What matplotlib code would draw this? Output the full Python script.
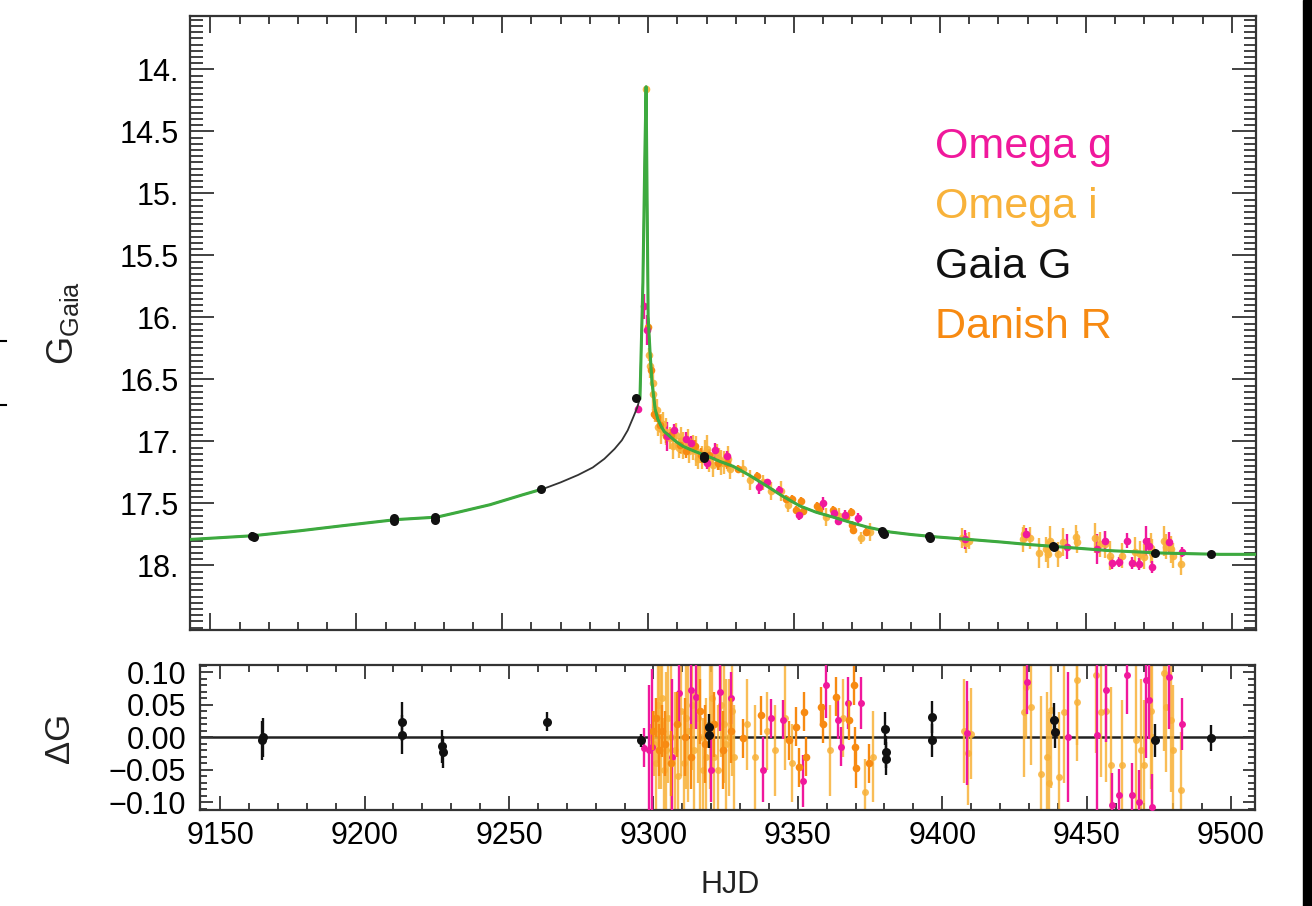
import numpy as np
import matplotlib.pyplot as plt
from matplotlib.ticker import MultipleLocator, FixedLocator, FuncFormatter
from matplotlib.lines import Line2D
from matplotlib.patches import Rectangle

plt.rcParams['font.family'] = ['Liberation Sans', 'DejaVu Sans']
plt.rcParams['mathtext.fontset'] = 'custom'
plt.rcParams['mathtext.rm'] = 'Liberation Sans'

C_G = '#F0189C'      # Omega g
C_I = '#F8B23A'      # Omega i
C_R = '#F78A12'      # Danish R
C_GAIA = '#111111'
C_MODEL = '#3DAA3F'

# model light curve
model_t = [9143.0, 9164.6, 9180.7, 9195.0, 9213.6, 9227.6, 9235.0, 9245.8,
           9250.0, 9257.0, 9264.3, 9270.0, 9276.0, 9281.0, 9285.0, 9288.5,
           9291.0, 9293.0, 9294.8, 9296.2, 9297.2, 9298.2, 9298.9, 9299.3,
           9299.7, 9300.0, 9300.6, 9301.3, 9302.4, 9303.3, 9304.5, 9305.5,
           9307.0, 9309.5, 9312.0, 9316.0, 9320.5, 9324.5, 9329.1, 9334.5,
           9340.7, 9346.0, 9352.0, 9357.5, 9363.4, 9369.0, 9375.0, 9382.9,
           9390.0, 9399.0, 9410.0, 9420.6, 9430.0, 9441.2, 9458.0, 9476.4,
           9496.0, 9508.3]
model_g = [17.79, 17.76, 17.72, 17.68, 17.63, 17.61, 17.57, 17.51,
           17.48, 17.43, 17.38, 17.33, 17.27, 17.21, 17.14, 17.06,
           16.99, 16.91, 16.81, 16.73, 16.65, 15.72, 14.65, 14.14,
           15.20, 15.99, 16.26, 16.52, 16.74, 16.82, 16.88, 16.92,
           16.95, 17.00, 17.04, 17.08, 17.12, 17.16, 17.20, 17.27,
           17.36, 17.44, 17.52, 17.57, 17.61, 17.65, 17.69, 17.73,
           17.75, 17.77, 17.79, 17.81, 17.83, 17.85, 17.88, 17.90,
           17.91, 17.91]

# Gaia G
gaia_t = [9164.4, 9164.8, 9212.8, 9213.0, 9226.9, 9227.1, 9263.3, 9295.8,
          9319.1, 9319.3, 9380.3, 9380.5, 9380.7, 9396.3, 9396.5, 9438.8,
          9439.0, 9473.8, 9493.0]
gaia_mag = [17.76, 17.77, 17.62, 17.64, 17.61, 17.63, 17.38, 16.65,
            17.12, 17.13, 17.72, 17.74, 17.75, 17.76, 17.78, 17.84,
            17.85, 17.90, 17.91]
gaia_res = [-0.005, 0.0, 0.024, 0.004, -0.014, -0.023, 0.024, -0.005,
            0.015, 0.004, 0.013, -0.023, -0.033, 0.031, -0.005, 0.027,
            0.008, -0.005, -0.002]
gaia_err = [0.03, 0.03, 0.03, 0.03, 0.025, 0.025, 0.015, 0.01,
            0.02, 0.02, 0.025, 0.025, 0.025, 0.025, 0.025, 0.025,
            0.025, 0.025, 0.02]

# Omega i
oi_t = [9299.3, 9300.2, 9301.5, 9302.5, 9303.5, 9305.0, 9306.0, 9307.5,
        9309.5, 9310.5, 9312.0, 9314.0, 9315.5, 9317.0, 9319.5, 9321.0,
        9323.5, 9325.0, 9326.0, 9328.0, 9332.5, 9335.0, 9339.5, 9342.0,
        9345.5, 9348.0, 9361.0, 9365.5, 9373.1, 9376.0, 9407.5, 9408.9,
        9410.0, 9428.3, 9428.9, 9430.7, 9434.1, 9436.4, 9437.0, 9437.6,
        9440.5, 9442.2, 9446.5, 9446.8, 9453.2, 9454.9, 9456.6, 9458.4,
        9462.4, 9467.0, 9468.7, 9469.9, 9472.2, 9472.7, 9476.8, 9477.4,
        9479.1, 9479.8, 9482.6,
        9300.8, 9301.8, 9303.0, 9304.5, 9308.5, 9311.2, 9313.5, 9316.3,
        9318.3, 9320.3, 9322.2, 9324.3, 9327.2]
oi_mag = [14.16, 16.30, 16.53, 16.74, 16.88, 16.86, 16.92, 16.97,
          16.95, 17.05, 17.03, 17.08, 17.05, 17.14, 17.09, 17.16,
          17.10, 17.17, 17.17, 17.22, 17.22, 17.31, 17.33, 17.40,
          17.40, 17.51, 17.61, 17.60, 17.78, 17.73, 17.78, 17.82,
          17.80, 17.79, 17.75, 17.78, 17.90, 17.87, 17.91, 17.80,
          17.91, 17.81, 17.77, 17.81, 17.78, 17.83, 17.83, 17.92,
          17.92, 17.89, 17.91, 17.93, 17.86, 17.90, 17.80, 17.85,
          17.87, 17.92, 17.99,
          16.39, 16.62, 16.75, 16.90, 17.04, 16.99, 17.00, 17.08,
          17.13, 17.06, 17.19, 17.14, 17.14]
oi_res = [0.0, -0.01, 0.05, 0.02, -0.05, 0.03, 0.0, -0.02,
          0.04, -0.04, 0.01, -0.02, 0.03, -0.05, 0.02, -0.03,
          0.05, -0.01, 0.0, -0.03, 0.02, -0.03, 0.01, -0.02,
          0.03, -0.04, -0.02, 0.03, -0.084, -0.03, 0.01, -0.025,
          0.005, 0.039, 0.077, 0.047, -0.056, -0.03, -0.071, 0.042,
          -0.061, 0.039, 0.088, 0.054, 0.095, 0.039, 0.041, -0.043,
          -0.043, -0.005, -0.02, -0.043, 0.041, 0.0, 0.098, 0.047,
          0.026, -0.02, -0.082,
          -0.04, 0.03, 0.06, -0.02, -0.06, 0.03, 0.05, 0.0,
          -0.03, 0.06, -0.05, 0.02, 0.04]
oi_err = [0.02, 0.05, 0.09, 0.1, 0.08, 0.1, 0.11, 0.09,
          0.1, 0.08, 0.11, 0.09, 0.1, 0.08, 0.1, 0.09,
          0.08, 0.1, 0.09, 0.08, 0.07, 0.08, 0.06, 0.07,
          0.08, 0.06, 0.07, 0.06, 0.05, 0.07, 0.08, 0.08,
          0.07, 0.1, 0.08, 0.09, 0.12, 0.1, 0.11, 0.12,
          0.1, 0.11, 0.1, 0.09, 0.12, 0.1, 0.11, 0.12,
          0.1, 0.12, 0.11, 0.1, 0.12, 0.11, 0.12, 0.1,
          0.11, 0.1, 0.09,
          0.1, 0.11, 0.09, 0.12, 0.1, 0.11, 0.1, 0.12,
          0.09, 0.11, 0.1, 0.09, 0.1]

# Danish R
dr_t = [9299.8, 9301.0, 9302.0, 9303.0, 9304.0, 9306.0, 9308.0, 9311.0,
        9313.0, 9316.0, 9318.0, 9321.0, 9324.0, 9327.0, 9330.9, 9337.3,
        9347.1, 9349.4, 9350.5, 9352.3, 9352.9, 9358.0, 9358.6, 9363.2,
        9367.8, 9369.6, 9369.9, 9370.2, 9374.8]
dr_mag = [16.08, 16.42, 16.78, 16.80, 16.87, 16.96, 16.95, 17.03,
          17.08, 17.04, 17.11, 17.11, 17.17, 17.17, 17.22, 17.28,
          17.46, 17.46, 17.55, 17.48, 17.56, 17.52, 17.55, 17.55,
          17.61, 17.57, 17.67, 17.71, 17.73]
dr_res = [0.01, 0.03, -0.02, 0.01, -0.01, -0.04, 0.02, 0.0,
          -0.03, 0.04, -0.01, 0.02, -0.02, 0.01, -0.002, 0.034,
          -0.005, 0.016, -0.046, 0.039, -0.03, 0.047, 0.021, 0.062,
          0.026, 0.08, -0.015, -0.048, -0.04]
dr_err = [0.03, 0.03, 0.04, 0.04, 0.05, 0.05, 0.05, 0.06,
          0.05, 0.05, 0.06, 0.05, 0.06, 0.05, 0.03, 0.03,
          0.03, 0.03, 0.03, 0.03, 0.03, 0.03, 0.03, 0.03,
          0.03, 0.03, 0.03, 0.03, 0.03]

# Omega g
og_t = [9296.6, 9298.6, 9299.6, 9306.5, 9309.0, 9313.1, 9314.8, 9320.0,
        9322.9, 9326.9, 9337.9, 9340.7, 9344.8, 9351.7, 9359.8, 9363.8,
        9364.9, 9367.3, 9371.8, 9408.6, 9429.5, 9443.4, 9453.7, 9456.6,
        9458.9, 9461.2, 9464.1, 9465.8, 9468.1, 9470.5, 9471.6, 9472.7,
        9478.5, 9483.1]
og_mag = [16.74, 15.91, 16.10, 16.96, 16.91, 16.98, 17.01, 17.17,
          17.07, 17.12, 17.37, 17.33, 17.39, 17.59, 17.50, 17.58,
          17.64, 17.59, 17.62, 17.79, 17.75, 17.85, 17.87, 17.80,
          17.98, 17.97, 17.80, 17.98, 17.99, 17.80, 17.84, 18.01,
          17.81, 17.89]
og_res = [-0.016, -0.02, -0.015, -0.03, 0.068, 0.072, 0.062, -0.05,
          0.07, 0.061, -0.05, 0.029, 0.027, -0.068, 0.08, 0.027,
          -0.015, 0.052, 0.052, 0.006, 0.085, 0.0, 0.003, 0.072,
          -0.105, -0.089, 0.095, -0.089, -0.1, 0.088, 0.057, -0.107,
          0.093, 0.021]
og_err = [0.03, 0.1, 0.12, 0.12, 0.05, 0.06, 0.05, 0.05,
          0.06, 0.04, 0.05, 0.03, 0.03, 0.04, 0.05, 0.03,
          0.03, 0.04, 0.04, 0.08, 0.05, 0.1, 0.12, 0.08,
          0.05, 0.04, 0.06, 0.05, 0.05, 0.12, 0.06, 0.05,
          0.08, 0.04]

legend_labels = ['Omega g', 'Omega i', 'Gaia G', 'Danish R']
legend_colors = [C_G, C_I, C_GAIA, C_R]
mag_ticks = [14, 14.5, 15, 15.5, 16, 16.5, 17, 17.5, 18]

W, H = 1312, 906
fig = plt.figure(figsize=(W / 100, H / 100), dpi=100)
ax1 = fig.add_axes([190 / W, 1 - 630 / H, (1256 - 190) / W, (630 - 16) / H])
ax2 = fig.add_axes([200 / W, 1 - 810 / H, (1255 - 200) / W, (810 - 665) / H])

# ---- top panel ----
mt = np.array(model_t)
mg = np.array(model_g)
green_part = (mt <= 9266) | (mt >= 9297)
ax1.plot(mt, mg, color='#333333', lw=1.3, zorder=3)
ax1.plot(mt, np.where(green_part, mg, np.nan), color=C_MODEL, lw=2.2, zorder=4)

kw = dict(fmt='o', capsize=0, elinewidth=1.7, markeredgewidth=0)
ax1.errorbar(oi_t, oi_mag, yerr=oi_err, color=C_I, ms=5.5, alpha=0.9, zorder=2, **kw)
ax1.errorbar(dr_t, dr_mag, yerr=dr_err, color=C_R, ms=5.5, zorder=2, **kw)
ax1.errorbar(og_t, og_mag, yerr=og_err, color=C_G, ms=5.5, zorder=2, **kw)
ax1.errorbar(gaia_t, gaia_mag, yerr=gaia_err, color=C_GAIA, ms=6.5, zorder=5, **kw)

ax1.set_xlim(9143, 9508.3)
ax1.set_ylim(18.52, 13.57)
ax1.xaxis.set_major_locator(MultipleLocator(50))
ax1.xaxis.set_minor_locator(MultipleLocator(10))
ax1.yaxis.set_major_locator(FixedLocator(mag_ticks))
ax1.yaxis.set_minor_locator(MultipleLocator(0.05))
ax1.yaxis.set_major_formatter(FuncFormatter(
    lambda v, p: f"{int(round(v))}." if abs(v - round(v)) < 1e-6 else f"{v:g}"))
ax1.tick_params(axis='both', which='both', direction='in', top=True, right=True,
                labelbottom=False, width=1.3, color='#333333')
ax1.tick_params(axis='y', which='major', length=17, labelsize=22, pad=8)
ax1.tick_params(axis='y', which='minor', length=9)
ax1.tick_params(axis='x', which='major', length=12)
ax1.tick_params(axis='x', which='minor', length=6)

for i, (lab, col) in enumerate(zip(legend_labels, legend_colors)):
    ax1.text(935 / W, 1 - (147 + 60 * i) / H, lab, color=col, fontsize=31,
             transform=fig.transFigure, ha='left', va='center')

# ---- residual panel ----
ax2.axhline(0, color='#222222', lw=1.8, zorder=1)
ax2.errorbar(oi_t, oi_res, yerr=oi_err, color=C_I, ms=5, alpha=0.85, zorder=2, **kw)
ax2.errorbar(og_t, og_res, yerr=og_err, color=C_G, ms=5, zorder=3, **kw)
ax2.errorbar(dr_t, dr_res, yerr=dr_err, color=C_R, ms=5.5, zorder=4, **kw)
ax2.errorbar(gaia_t, gaia_res, yerr=gaia_err, color=C_GAIA, ms=6.5, zorder=5, **kw)

ax2.set_xlim(9143, 9508.3)
ax2.set_ylim(-0.112, 0.111)
ax2.xaxis.set_major_locator(MultipleLocator(50))
ax2.xaxis.set_minor_locator(MultipleLocator(10))
ax2.yaxis.set_major_locator(MultipleLocator(0.05))
ax2.yaxis.set_minor_locator(MultipleLocator(0.01))
ax2.yaxis.set_major_formatter(FuncFormatter(
    lambda v, p: f"{v:.2f}".replace('-0.00', '0.00').replace('-', '\u2212')))
ax2.tick_params(axis='both', which='both', direction='in', top=True, right=True,
                width=1.3, color='#333333')
ax2.tick_params(axis='both', which='major', labelsize=22)
ax2.tick_params(axis='y', which='major', length=9, pad=10)
ax2.tick_params(axis='y', which='minor', length=5)
ax2.tick_params(axis='x', which='major', length=10, pad=8)
ax2.tick_params(axis='x', which='minor', length=5)

for ax in (ax1, ax2):
    for sp in ax.spines.values():
        sp.set_linewidth(1.6)
        sp.set_color('#333333')

fig.text(63 / W, 1 - 323 / H, r'G$_{\mathrm{Gaia}}$', rotation=90, fontsize=26,
         ha='center', va='center', color='#222222')
fig.text(60 / W, 1 - 738 / H, '\u0394G', rotation=90, fontsize=25,
         ha='center', va='center', color='#222222')
fig.text(730 / W, 1 - 885 / H, 'HJD', fontsize=22, ha='center', va='center',
         color='#222222')

# scan artefacts at the image edges
fig.add_artist(Rectangle((1303 / W, 0), 9 / W, 1, transform=fig.transFigure,
                         color='black', zorder=10))
for yy in (341, 405):
    fig.add_artist(Line2D([0, 6 / W], [1 - yy / H] * 2, transform=fig.transFigure,
                          color='black', lw=1.5))

fig.savefig('out.png', dpi=100)
